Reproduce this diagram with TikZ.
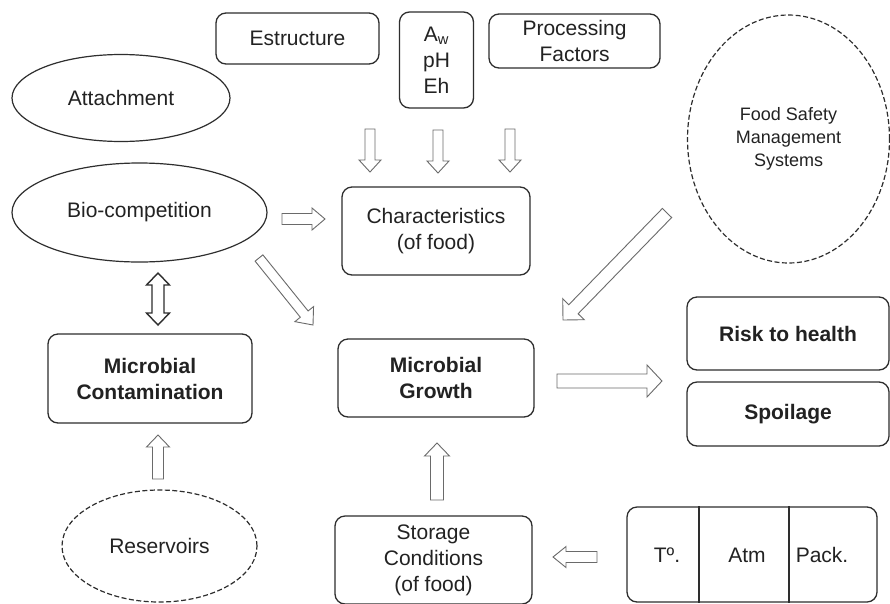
\documentclass[tikz,border=0pt]{standalone}
\usepackage{fontspec}
\setmainfont{Liberation Sans}
\usetikzlibrary{shapes.geometric,calc}
\definecolor{boxc}{HTML}{2E2E2E}
\definecolor{txt}{HTML}{222222}
\definecolor{arrc}{HTML}{6A6A6A}
\newcommand{\mainsz}{\fontsize{21}{26}\selectfont}
\newcommand{\smallsz}{\fontsize{18}{23}\selectfont}
\newcommand{\blockarr}[5]{%
  \coordinate (bab) at ($(#2)!#5!(#1)$);
  \draw[blockarrow] ($(#1)!#3!90:(#2)$) -- ($(bab)!#3!90:(#2)$) -- ($(bab)!#4!90:(#2)$) -- (#2)
    -- ($(bab)!#4!-90:(#2)$) -- ($(bab)!#3!-90:(#2)$) -- ($(#1)!#3!-90:(#2)$) -- cycle;}
\newcommand{\dblockarr}[5]{%
  \coordinate (bba) at ($(#2)!#5!(#1)$);
  \coordinate (bbb) at ($(#1)!#5!(#2)$);
  \draw[dblockarrow] (#1) -- ($(bbb)!#4!90:(#2)$) -- ($(bbb)!#3!90:(#2)$) -- ($(bba)!#3!90:(#2)$)
    -- ($(bba)!#4!90:(#2)$) -- (#2) -- ($(bba)!#4!-90:(#2)$) -- ($(bba)!#3!-90:(#2)$)
    -- ($(bbb)!#3!-90:(#2)$) -- ($(bbb)!#4!-90:(#2)$) -- cycle;}
\tikzset{
  box/.style={draw=boxc, line width=1.3pt, rounded corners=10pt, align=center, inner sep=0pt,
    text=txt, font=\mainsz, rectangle},
  oval/.style={draw=boxc, line width=1.2pt, ellipse, align=center, inner sep=0pt, text=txt, font=\mainsz},
  dashoval/.style={oval, dash pattern=on 5pt off 2.5pt},
  blockarrow/.style={draw=arrc, line width=0.9pt, fill=white, line join=miter},
  dblockarrow/.style={draw=boxc, line width=1.4pt, fill=white, line join=miter},
  lbl/.style={text=txt, font=\mainsz, inner sep=0pt, align=center},
}
\begin{document}
\begin{tikzpicture}[x=1pt,y=-1pt]
\useasboundingbox[fill=white] (0,0) rectangle (890,603);
% top boxes
\node[box, minimum width=163pt, minimum height=51pt] (estr) at (297.5,38.5) {Estructure};
\node[box, minimum width=74pt, minimum height=96pt] (aw) at (436.5,60) {A\textsubscript{w}\\pH\\Eh};
\node[box, minimum width=171pt, minimum height=54pt] (proc) at (574.5,41) {Processing\\Factors};
% ellipses
\node[oval, minimum width=218pt, minimum height=87pt] (att) at (121,98) {Attachment};
\node[oval, minimum width=255pt, minimum height=99pt] (bio) at (139.5,212.5) {Bio-competition};
\node[dashoval, minimum width=202pt, minimum height=248pt, font=\smallsz] (fsms) at (788.5,139) {Food Safety\\Management\\Systems};
\node[dashoval, minimum width=195pt, minimum height=112pt] (res) at (159.5,546) {Reservoirs};
% central boxes
\node[box, minimum width=188pt, minimum height=88pt] (char) at (436,231) {Characteristics\\(of food)};
\node[box, minimum width=204pt, minimum height=89pt, font=\mainsz\bfseries] (mcont) at (150,378.5) {Microbial\\Contamination};
\node[box, minimum width=196pt, minimum height=78pt, font=\mainsz\bfseries] (mgrow) at (436,378) {Microbial\\Growth};
\node[box, minimum width=202pt, minimum height=73pt, font=\mainsz\bfseries] (risk) at (788,333.5) {Risk to health};
\node[box, minimum width=202pt, minimum height=64pt, font=\mainsz\bfseries] (spoil) at (788,414) {Spoilage};
\node[box, minimum width=197pt, minimum height=88pt] (stor) at (433.5,560) {Storage\\Conditions\\(of food)};
% T / Atm / Pack box
\node[box, minimum width=250pt, minimum height=95pt] (tap) at (752,554.5) {};
\draw[boxc, line width=1.3pt] (tap.north -| 699,0) -- (tap.south -| 699,0);
\draw[boxc, line width=1.3pt] (tap.north -| 789,0) -- (tap.south -| 789,0);
\node[lbl] (temp) at (667,555) {Tº.};
\node[lbl] (atm) at (747,555) {Atm};
\node[lbl] (pack) at (822,555) {Pack.};
% arrow end points
\coordinate (d1s) at (370,129); \coordinate (d1e) at (370,172);
\coordinate (d2s) at (438,130); \coordinate (d2e) at (438,173);
\coordinate (d3s) at (510,129); \coordinate (d3e) at (510,172);
\coordinate (bcs) at (282,219); \coordinate (bce) at (325,219);
\coordinate (bgs) at (259,258); \coordinate (bge) at (313,325);
\coordinate (dbs) at (158,273); \coordinate (dbe) at (158,325);
\coordinate (rss) at (158,479); \coordinate (rse) at (158,435);
\coordinate (fss) at (667,213); \coordinate (fse) at (563,320);
\coordinate (grs) at (557,381); \coordinate (gre) at (662,381);
\coordinate (sts) at (437,500); \coordinate (ste) at (437,443);
\coordinate (tps) at (597,557); \coordinate (tpe) at (553,557);
% block arrows
\blockarr{d1s}{d1e}{5pt}{11pt}{12pt}
\blockarr{d2s}{d2e}{5pt}{11pt}{12pt}
\blockarr{d3s}{d3e}{5pt}{11pt}{12pt}
\blockarr{bcs}{bce}{5.5pt}{11pt}{13pt}
\blockarr{bgs}{bge}{5pt}{12pt}{14pt}
\dblockarr{dbs}{dbe}{6pt}{11.5pt}{12pt}
\blockarr{rss}{rse}{5.5pt}{11.5pt}{12pt}
\blockarr{fss}{fse}{6.5pt}{15pt}{15pt}
\blockarr{grs}{gre}{7pt}{16pt}{15pt}
\blockarr{sts}{ste}{6.5pt}{12.5pt}{13pt}
\blockarr{tps}{tpe}{5.5pt}{10.5pt}{13pt}
\end{tikzpicture}
\end{document}
